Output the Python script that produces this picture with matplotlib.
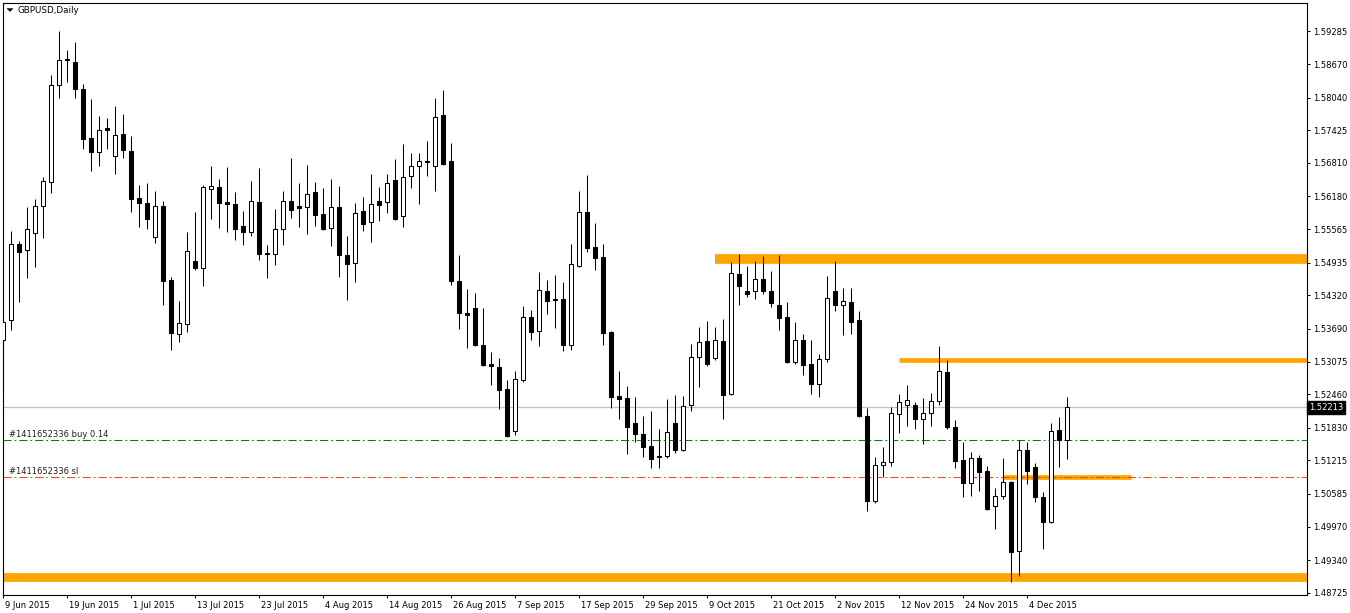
import matplotlib
matplotlib.use("Agg")
import matplotlib.pyplot as plt
from matplotlib.patches import Rectangle, Polygon
from matplotlib.transforms import ScaledTranslation
import numpy as np
import pandas as pd

plt.rcParams['font.family'] = ['DejaVu Sans']
plt.rcParams['lines.scale_dashes'] = False

# ---------------- data ----------------
title_text = "GBPUSD,Daily"
dates = pd.bdate_range("2015-06-09", periods=134)

opens = [1.53478, 1.53854, 1.55277, 1.55170, 1.55484, 1.56010, 1.56454, 1.58285, 1.58774, 1.58704,
         1.58210, 1.57276, 1.57018, 1.57464, 1.56950, 1.57351, 1.57031, 1.56148, 1.56054, 1.55420,
         1.56010, 1.54606, 1.53591, 1.53773, 1.54963, 1.54826, 1.56322, 1.56349, 1.56072, 1.56035,
         1.55621, 1.55503, 1.56072, 1.55114, 1.55089, 1.55559, 1.56104, 1.55992, 1.55973, 1.56255,
         1.55841, 1.55589, 1.55973, 1.55070, 1.54920, 1.55898, 1.55691, 1.56091, 1.56067, 1.56499,
         1.55804, 1.56574, 1.56744, 1.56856, 1.56744, 1.57721, 1.56838, 1.54582, 1.53986, 1.54074,
         1.53378, 1.53027, 1.52965, 1.52557, 1.51762, 1.52720, 1.53905, 1.53642, 1.54399, 1.54249,
         1.54249, 1.53390, 1.54875, 1.55879, 1.55221, 1.55038, 1.53628, 1.52425, 1.52388, 1.51918,
         1.51711, 1.51485, 1.51303, 1.51292, 1.51918, 1.51416, 1.52250, 1.53153, 1.53459, 1.53134,
         1.53459, 1.52457, 1.54719, 1.54399, 1.54394, 1.54625, 1.54399, 1.54136, 1.53910, 1.53059,
         1.53478, 1.53027, 1.52656, 1.53115, 1.54399, 1.54130, 1.54192, 1.53854, 1.52049, 1.50457,
         1.51122, 1.51179, 1.52081, 1.52262, 1.52250, 1.51998, 1.52100, 1.52326, 1.52871, 1.51837,
         1.51216, 1.50795, 1.51260, 1.51010, 1.50352, 1.50540, 1.50803, 1.49506, 1.51404, 1.51090,
         1.50521, 1.50051, 1.51786, 1.51592]
highs = [1.53886, 1.55533, 1.55345, 1.55984, 1.56129, 1.56548, 1.58460, 1.59287, 1.58943, 1.59080,
         1.58304, 1.58022, 1.57689, 1.57657, 1.57877, 1.57740, 1.57313, 1.56392, 1.56430, 1.56279,
         1.56091, 1.54668, 1.54211, 1.55503, 1.55890, 1.56392, 1.56755, 1.56505, 1.56730, 1.56260,
         1.55903, 1.56467, 1.56712, 1.55264, 1.55941, 1.56279, 1.56900, 1.56430, 1.56768, 1.56448,
         1.56336, 1.56505, 1.56373, 1.55433, 1.56048, 1.56166, 1.56599, 1.56354, 1.56599, 1.56881,
         1.57163, 1.56994, 1.57007, 1.57219, 1.58028, 1.58178, 1.57195, 1.55070, 1.54437, 1.54362,
         1.54080, 1.53252, 1.53140, 1.52726, 1.52895, 1.54117, 1.54042, 1.54756, 1.54606, 1.54700,
         1.54568, 1.55283, 1.56279, 1.56580, 1.55678, 1.55283, 1.53642, 1.52901, 1.52613, 1.52406,
         1.52049, 1.52143, 1.51805, 1.52374, 1.52444, 1.52425, 1.53403, 1.53722, 1.53835, 1.53722,
         1.53873, 1.54944, 1.55095, 1.54869, 1.54963, 1.55057, 1.54775, 1.55076, 1.54192, 1.53816,
         1.53591, 1.53478, 1.53215, 1.54681, 1.54963, 1.54456, 1.54456, 1.54023, 1.52200, 1.51278,
         1.51466, 1.52224, 1.52468, 1.52632, 1.52307, 1.52382, 1.52476, 1.53365, 1.53096, 1.51974,
         1.51555, 1.51367, 1.51310, 1.51109, 1.50690, 1.51260, 1.50827, 1.51598, 1.51555, 1.51160,
         1.50615, 1.51912, 1.52025, 1.52401]
lows = [1.52570, 1.53666, 1.54198, 1.54649, 1.54856, 1.55401, 1.56247, 1.58041, 1.58342, 1.58041,
        1.57082, 1.56661, 1.56755, 1.57074, 1.56612, 1.56905, 1.55879, 1.55608, 1.55559, 1.55307,
        1.54130, 1.53296, 1.53435, 1.53634, 1.54794, 1.54499, 1.55753, 1.55589, 1.55514, 1.55364,
        1.55264, 1.55439, 1.54988, 1.54649, 1.54894, 1.55270, 1.55777, 1.55608, 1.55476, 1.55627,
        1.55555, 1.55251, 1.54657, 1.54236, 1.54574, 1.55533, 1.55326, 1.55721, 1.55871, 1.55743,
        1.55608, 1.56341, 1.56040, 1.56567, 1.56285, 1.56774, 1.54518, 1.53690, 1.53333, 1.53371,
        1.52995, 1.52638, 1.52186, 1.51649, 1.51698, 1.52694, 1.53484, 1.53371, 1.53967, 1.53709,
        1.53277, 1.53296, 1.54856, 1.55127, 1.54800, 1.53390, 1.52205, 1.51998, 1.51340, 1.51560,
        1.51284, 1.51066, 1.51066, 1.51265, 1.51359, 1.51397, 1.52149, 1.52600, 1.52995, 1.53108,
        1.51998, 1.52444, 1.54142, 1.54292, 1.54254, 1.54348, 1.54104, 1.53672, 1.53051, 1.53036,
        1.52826, 1.52468, 1.52412, 1.53070, 1.54029, 1.53578, 1.53596, 1.52030, 1.50269, 1.50419,
        1.50897, 1.51115, 1.51735, 1.51867, 1.51810, 1.51528, 1.51867, 1.52262, 1.51805, 1.51077,
        1.50532, 1.50551, 1.50645, 1.50291, 1.49925, 1.50494, 1.48934, 1.49047, 1.50776, 1.50438,
        1.49554, 1.50038, 1.51096, 1.51246]
closes = [1.53822, 1.55277, 1.55138, 1.55559, 1.55992, 1.56462, 1.58285, 1.58755, 1.58748, 1.58202,
          1.57270, 1.57018, 1.57439, 1.57439, 1.57345, 1.57063, 1.56134, 1.56059, 1.55758, 1.56010,
          1.54593, 1.53604, 1.53792, 1.55146, 1.54837, 1.56349, 1.56368, 1.56059, 1.56040, 1.55570,
          1.55514, 1.56104, 1.55100, 1.55095, 1.55559, 1.56104, 1.55928, 1.55965, 1.56223, 1.55834,
          1.55570, 1.55973, 1.55082, 1.54912, 1.55860, 1.55653, 1.56029, 1.56022, 1.56424, 1.55758,
          1.56537, 1.56744, 1.56838, 1.56830, 1.57684, 1.56792, 1.54593, 1.53980, 1.53942, 1.53390,
          1.53014, 1.52984, 1.52532, 1.51679, 1.52739, 1.53905, 1.53634, 1.54412, 1.54217, 1.54236,
          1.53390, 1.54901, 1.55879, 1.55213, 1.55025, 1.53615, 1.52412, 1.52374, 1.51848, 1.51716,
          1.51472, 1.51246, 1.51273, 1.51748, 1.51416, 1.52237, 1.53153, 1.53440, 1.53032, 1.53472,
          1.52450, 1.54732, 1.54499, 1.54348, 1.54619, 1.54405, 1.54179, 1.53897, 1.53070, 1.53478,
          1.53014, 1.52656, 1.53121, 1.54262, 1.54142, 1.54206, 1.53822, 1.52049, 1.50457, 1.51122,
          1.51179, 1.52100, 1.52307, 1.52344, 1.51998, 1.52100, 1.52326, 1.52890, 1.51848, 1.51209,
          1.50795, 1.51254, 1.51002, 1.50306, 1.50540, 1.50803, 1.49498, 1.51404, 1.51021, 1.50532,
          1.50062, 1.51762, 1.51592, 1.52213]

price_ticks = [1.59285, 1.58670, 1.58040, 1.57425, 1.56810, 1.56180, 1.55565, 1.54935, 1.54320,
               1.53690, 1.53075, 1.52460, 1.51830, 1.51215, 1.50585, 1.49970, 1.49340, 1.48725]
current_price = 1.52213
order_id = "#1411652336"
order_lots = 0.14
order_open = 1.51592
order_sl = 1.50897

# support / resistance levels drawn by the trader
level_prices = [1.55005, 1.53096, 1.50897, 1.49017]
level_from_bar = [88.95, 111.95, 124.95, None]
level_to_bar = [None, None, 140.95, None]

# ---------------- figure ----------------
W, H = 1350, 613
fig = plt.figure(figsize=(W / 100, H / 100), dpi=100)
fig.patch.set_facecolor("white")
ax = fig.add_axes([3 / W, 18 / H, 1304 / W, 592 / H])
ax.set_facecolor("white")

y_top, y_bot = 1.59819, 1.48684
x_left, x_right = -0.0375, 162.96
ax.set_xlim(x_left, x_right)
ax.set_ylim(y_bot, y_top)
px_y = (y_top - y_bot) / 592.0

n = len(opens)
xs = np.arange(n)

# levels
level_lw = [7.0, 3.4, 3.4, 6.3]
for p, a, b, lw in zip(level_prices, level_from_bar, level_to_bar, level_lw):
    xa = x_left if a is None else a
    xb = x_right if b is None else b
    ax.hlines(p, xa, xb, colors="#FFA500", lw=lw, zorder=1, capstyle="butt")

# current price line and order lines
ax.axhline(current_price, color="#C0C0C0", lw=0.9, zorder=1.5)
dashdot = (0, (5.8, 2.2, 1.2, 2.2))
ax.axhline(order_open, color="#008000", lw=0.75, ls=dashdot, zorder=1.6)
ax.axhline(order_sl, color="#FF4500", lw=0.75, ls=dashdot, zorder=1.6)

# candles
ax.vlines(xs, lows, highs, colors="black", lw=0.75, zorder=3)
bw = 0.5
for i in range(n):
    o, c = opens[i], closes[i]
    bottom = min(o, c)
    h = max(abs(c - o), px_y)
    fc = "white" if c > o else "black"
    ax.add_patch(Rectangle((xs[i] - bw / 2, bottom), bw, h, facecolor=fc,
                           edgecolor="black", lw=0.75, zorder=4))

# order labels
ax.annotate(f"{order_id} buy {order_lots:.2f}", xy=(6 / 1304, order_open),
            xycoords=ax.get_yaxis_transform(), xytext=(0, 1.2), textcoords="offset points",
            va="bottom", ha="left", fontsize=6, color="#202020", zorder=5)
ax.annotate(f"{order_id} sl", xy=(6 / 1304, order_sl),
            xycoords=ax.get_yaxis_transform(), xytext=(0, 1.2), textcoords="offset points",
            va="bottom", ha="left", fontsize=6, color="#202020", zorder=5)

# axes styling
for s in ax.spines.values():
    s.set_linewidth(0.8)
    s.set_color("black")

ax.yaxis.tick_right()
ax.set_yticks(price_ticks)
ax.set_yticklabels([f"{v:.5f}" for v in price_ticks])
ax.tick_params(axis="y", direction="out", length=2.3, width=0.75, pad=2, labelsize=6,
               colors="black")

tick_idx = list(range(0, n, 8))
ax.set_xticks(tick_idx)
ax.set_xticklabels([f"{dates[i].day} {dates[i]:%b %Y}" for i in tick_idx], ha="left")
ax.tick_params(axis="x", direction="out", length=2.5, width=0.75, pad=1.5, labelsize=6,
               colors="black")
offset = ScaledTranslation(2 / 100, 0, fig.dpi_scale_trans)
for lbl in ax.get_xticklabels():
    lbl.set_transform(lbl.get_transform() + offset)

# current price box on the axis
ax.text(1.0015, current_price, f"{current_price:.5f}", transform=ax.get_yaxis_transform(),
        ha="left", va="center", fontsize=6, color="white", zorder=6, clip_on=False,
        bbox=dict(boxstyle="square,pad=0.2", fc="black", ec="black"))

# title with small triangle
tri = Polygon([[7 / W, 1 - 8.5 / H], [13 / W, 1 - 8.5 / H], [10 / W, 1 - 11.5 / H]],
              closed=True, transform=fig.transFigure, facecolor="black", edgecolor="black", lw=0.3)
fig.patches.append(tri)
fig.text(18 / W, 1 - 10.5 / H, title_text, fontsize=6.3, va="center", ha="left", color="black")

fig.savefig("out.png", dpi=100, facecolor="white")
